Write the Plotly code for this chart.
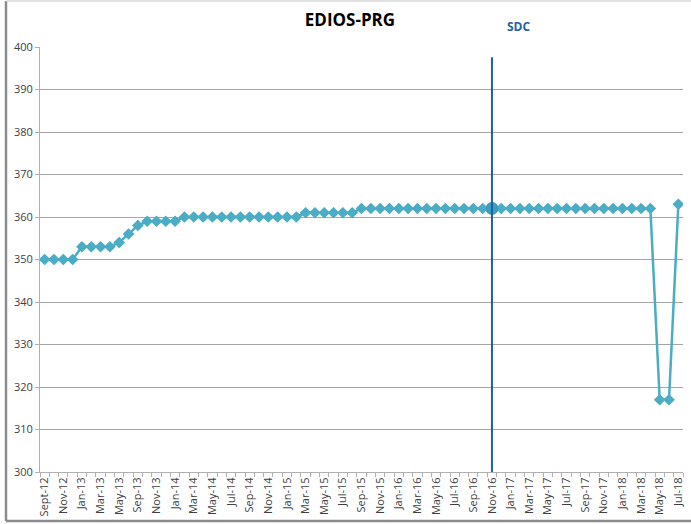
import plotly.graph_objects as go

categories = [
    "Sept-12", "Oct-12", "Nov-12", "Dec-12", "Jan-13", "Feb-13", "Mar-13", "Apr-13",
    "May-13", "Jul-13", "Sep-13", "Oct-13", "Nov-13", "Dec-13", "Jan-14", "Feb-14",
    "Mar-14", "Apr-14", "May-14", "Jun-14", "Jul-14", "Aug-14", "Sep-14", "Oct-14",
    "Nov-14", "Dec-14", "Jan-15", "Feb-15", "Mar-15", "Apr-15", "May-15", "Jun-15",
    "Jul-15", "Aug-15", "Sep-15", "Oct-15", "Nov-15", "Dec-15", "Jan-16", "Feb-16",
    "Mar-16", "Apr-16", "May-16", "Jun-16", "Jul-16", "Aug-16", "Sep-16", "Oct-16",
    "Nov-16", "Dec-16", "Jan-17", "Feb-17", "Mar-17", "Apr-17", "May-17", "Jun-17",
    "Jul-17", "Aug-17", "Sep-17", "Oct-17", "Nov-17", "Dec-17", "Jan-18", "Feb-18",
    "Mar-18", "Apr-18", "May-18", "Jun-18", "Jul-18",
]

values = (
    [350, 350, 350, 350, 353, 353, 353, 353, 354, 356, 358, 359, 359, 359, 359]
    + [360] * 13
    + [361] * 6
    + [362] * 32
    + [317, 317, 363]
)

sdc_category = "Nov-16"
sdc_label = "SDC"
sdc_range = [300, 397.6]
sdc_point = 362

title_text = "EDIOS-PRG"
y_ticks = [300, 310, 320, 330, 340, 350, 360, 370, 380, 390, 400]

idx = list(range(len(categories)))
sdc_idx = categories.index(sdc_category)
tick_idx = idx[::2]
tick_text = categories[::2]

fig = go.Figure()
fig.add_trace(go.Scatter(
    x=idx, y=values, mode="lines+markers",
    line=dict(color="#4BACC6", width=2.5),
    marker=dict(symbol="diamond", size=9, color="#4BACC6"),
    hovertext=categories, showlegend=False,
))
fig.add_trace(go.Scatter(
    x=[sdc_idx], y=[sdc_point], mode="markers",
    marker=dict(symbol="circle", size=13, color="#3E9CC0"), showlegend=False,
))
fig.add_trace(go.Scatter(
    x=[sdc_idx, sdc_idx], y=sdc_range, mode="lines",
    line=dict(color="#1F5FA6", width=2), showlegend=False,
))

fig.update_layout(
    width=691, height=524,
    margin=dict(l=40, r=8, t=47, b=52, autoexpand=False),
    paper_bgcolor="white", plot_bgcolor="white",
    font=dict(family="Open Sans, Liberation Sans, sans-serif", color="#404040"),
    title=dict(text="<b>" + title_text + "</b>", x=350 / 691, xanchor="center",
               y=1 - 20 / 524, yanchor="middle",
               font=dict(size=17, color="black", family="Open Sans, sans-serif")),
    xaxis=dict(
        range=[-0.5, len(categories) - 0.5],
        tickmode="array", tickvals=tick_idx, ticktext=tick_text,
        tickangle=-90, tickfont=dict(size=11, color="#404040"),
        ticks="", showgrid=False, zeroline=False,
        showline=True, linecolor="#B0B0B0", linewidth=1,
        minor=dict(tickmode="linear", tick0=-0.5, dtick=1, ticks="outside",
                   ticklen=4, tickcolor="#B0B0B0", showgrid=False),
    ),
    yaxis=dict(
        range=[300, 400], tickmode="array", tickvals=y_ticks,
        tickfont=dict(size=11, color="#404040"),
        showgrid=True, gridcolor="#A6A6A6", gridwidth=1,
        zeroline=False, showline=True, linecolor="#B0B0B0", linewidth=1,
        ticks="outside", ticklen=4, tickcolor="#B0B0B0",
    ),
    annotations=[dict(
        text="<b>" + sdc_label + "</b>", xref="paper", yref="paper",
        x=(518 - 40) / (691 - 48), y=1 + (47 - 26) / (524 - 99),
        xanchor="center", yanchor="middle", showarrow=False,
        font=dict(size=12, color="#1F5FA6"),
    )],
    shapes=[
        dict(type="line", xref="paper", yref="paper",
             x0=(6 - 40) / 643, x1=(6 - 40) / 643,
             y0=(524 - 521 - 52) / 425, y1=(524 - 1 - 52) / 425,
             line=dict(color="#8C8C8C", width=2.5)),
        dict(type="line", xref="paper", yref="paper",
             x0=(6 - 40) / 643, x1=(691 - 40) / 643,
             y0=(524 - 521 - 52) / 425, y1=(524 - 521 - 52) / 425,
             line=dict(color="#8C8C8C", width=2.5)),
        dict(type="line", xref="paper", yref="paper",
             x0=(6 - 40) / 643, x1=(691 - 40) / 643,
             y0=(524 - 1 - 52) / 425, y1=(524 - 1 - 52) / 425,
             line=dict(color="#D9D9D9", width=1.5)),
    ],
)

fig.write_html(
    "out.html",
    config={"displayModeBar": False},
    post_script="document.body.style.margin='0';document.body.style.overflow='hidden';",
)
